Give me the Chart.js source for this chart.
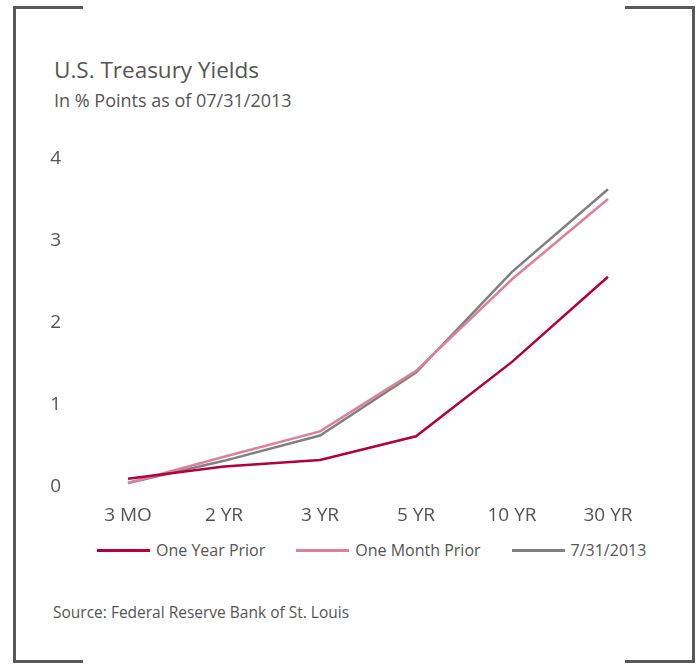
<!DOCTYPE html>
<html>
<head>
<meta charset="utf-8">
<script src="https://cdn.jsdelivr.net/npm/chart.js@4"></script>
<style>
  body { margin: 0; background: #fff; }
  #box { position: relative; width: 700px; height: 665px; font-family: "Open Sans", sans-serif; color: #555; }
  .edge { position: absolute; background: #595959; }
  #title { position: absolute; left: 54px; top: 54px; font-size: 22.5px; }
  #sub { position: absolute; left: 54px; top: 88px; font-size: 18px; }
  #source { position: absolute; left: 53px; top: 601px; font-size: 15.5px; }
  #wrap { position: absolute; left: 0; top: 130px; width: 700px; height: 407px; }
  #legenda { position: absolute; left: 97px; top: 539px; display: flex; font-size: 16px; line-height: 22px; }
  #legenda .item { display: flex; align-items: center; margin-right: 31px; }
  #legenda .traco { width: 53px; height: 3px; margin-right: 6px; }
</style>
</head>
<body>
<div id="box">
  <!-- corner brackets -->
  <div class="edge" style="left:13px; top:6px; width:3px; height:657px;"></div>
  <div class="edge" style="left:13px; top:6px; width:70px; height:3px;"></div>
  <div class="edge" style="left:13px; top:660px; width:70px; height:3px;"></div>
  <div class="edge" style="left:692px; top:6px; width:3px; height:657px;"></div>
  <div class="edge" style="left:625px; top:6px; width:70px; height:3px;"></div>
  <div class="edge" style="left:625px; top:660px; width:70px; height:3px;"></div>

  <div id="title">U.S. Treasury Yields</div>
  <div id="sub">In % Points as of 07/31/2013</div>
  <div id="wrap"><canvas id="grafico" width="700" height="407"></canvas></div>
  <div id="legenda"></div>
  <div id="source">Source: Federal Reserve Bank of St. Louis</div>
</div>
<script>
// maturities and yields (%)
const maturidades = ['3 MO', '2 YR', '3 YR', '5 YR', '10 YR', '30 YR'];
const umAnoAntes = [0.09, 0.24, 0.32, 0.61, 1.52, 2.56];
const umMesAntes = [0.04, 0.36, 0.67, 1.41, 2.53, 3.51];
const atual = [0.04, 0.31, 0.62, 1.39, 2.62, 3.63];
const ticksY = [0, 1, 2, 3, 4];

function serie(label, data, cor) {
  return {
    label: label,
    data: data,
    borderColor: cor,
    backgroundColor: cor,
    borderWidth: 2.5,
    pointRadius: 0,
    tension: 0
  };
}

const grafico = new Chart(document.getElementById('grafico'), {
  type: 'line',
  data: {
    labels: maturidades,
    datasets: [
      serie('One Year Prior', umAnoAntes, '#b5003b'),
      serie('One Month Prior', umMesAntes, '#dd8199'),
      serie('7/31/2013', atual, '#808080')
    ]
  },
  options: {
    responsive: false,
    animation: false,
    devicePixelRatio: 1,
    layout: { padding: { top: 29, right: 44, left: 0, bottom: 0 } },
    plugins: {
      tooltip: { enabled: false },
      legend: { display: false }
    },
    scales: {
      x: {
        offset: true,
        grid: { display: false },
        border: { display: false },
        ticks: { color: '#555', padding: 10, maxRotation: 0, font: { family: 'Open Sans', size: 19 } }
      },
      y: {
        min: 0,
        max: 4,
        afterBuildTicks: s => { s.ticks = ticksY.map(v => ({ value: v })); },
        afterFit: s => { s.width = 80; },
        grid: { display: false },
        border: { display: false },
        ticks: { color: '#555', padding: 11, font: { family: 'Open Sans', size: 19 } }
      }
    }
  }
});

// legend built from the datasets
const legenda = document.getElementById('legenda');
grafico.data.datasets.forEach(ds => {
  const item = document.createElement('div');
  item.className = 'item';
  item.innerHTML = `<span class="traco" style="background:${ds.borderColor}"></span><span>${ds.label}</span>`;
  legenda.appendChild(item);
});
</script>
</body>
</html>
